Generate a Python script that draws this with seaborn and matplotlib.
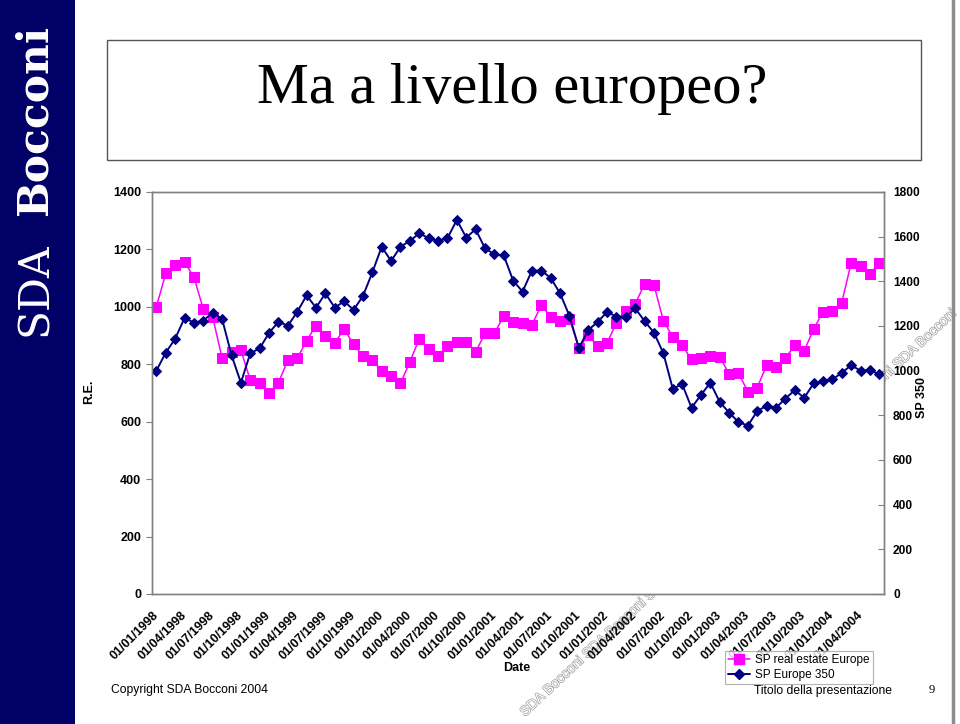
"""
Slide chart: SP real estate Europe vs SP Europe 350 (1998-2004)
"""

import numpy as np
import pandas as pd
import matplotlib
matplotlib.use('Agg')
import matplotlib.pyplot as plt
import matplotlib.patheffects as pe
import matplotlib.transforms as mtransforms
from matplotlib.lines import Line2D
from matplotlib.patches import Rectangle
import seaborn as sns

# monthly categories, Jan 1998 - Jun 2004
months = pd.date_range('1998-01-01', '2004-06-01', freq='MS')

# left axis (R.E.)
re_europe = [
    1000, 1117, 1145, 1156, 1103, 992, 964, 821, 842, 849, 745, 736,
    701, 736, 814, 821, 882, 935, 900, 875, 922, 870, 828, 814,
    778, 758, 734, 808, 889, 853, 830, 864, 879, 879, 842, 908,
    908, 968, 946, 943, 938, 1005, 965, 951, 959, 857, 901, 863,
    873, 945, 987, 1010, 1080, 1076, 952, 894, 866, 817, 823, 829,
    827, 766, 769, 705, 719, 797, 790, 821, 867, 847, 922, 983,
    987, 1015, 1152, 1143, 1114, 1154,
]

# right axis (SP 350)
sp_europe_350 = [
    1000, 1081, 1143, 1236, 1215, 1224, 1260, 1231, 1070, 946, 1078, 1100,
    1169, 1219, 1201, 1263, 1337, 1282, 1346, 1282, 1311, 1272, 1334, 1440,
    1555, 1491, 1555, 1581, 1615, 1593, 1582, 1593, 1675, 1596, 1633, 1548,
    1521, 1516, 1403, 1354, 1448, 1448, 1415, 1346, 1245, 1101, 1182, 1218,
    1263, 1242, 1242, 1279, 1222, 1170, 1078, 919, 940, 834, 891, 946,
    860, 812, 770, 754, 819, 843, 834, 875, 913, 878, 943, 952,
    961, 990, 1024, 1000, 1003, 984,
]

tick_every = 3
tick_labels = [d.strftime('%d/%m/%Y') for d in months[::tick_every]]
left_ticks = list(range(0, 1401, 200))
right_ticks = list(range(0, 1801, 200))

series_labels = ['SP real estate Europe', 'SP Europe 350']
pink = '#ff00ff'
navy = '#000080'
grey = '#808080'

W, H = 960, 724


def fx(x):
    return x / W


def fy(y):
    return 1 - y / H


sns.set_style('white')
plt.rcParams['font.family'] = ['Liberation Sans', 'DejaVu Sans']
plt.rcParams['text.color'] = 'black'
plt.rcParams['xtick.labelcolor'] = 'black'
plt.rcParams['ytick.labelcolor'] = 'black'

fig = plt.figure(figsize=(W / 100, H / 100), dpi=100)
fig.patch.set_facecolor('white')

# blue side band with logo
fig.add_artist(Rectangle((0, 0), fx(75), 1, transform=fig.transFigure,
                         facecolor='#000066', edgecolor='none', zorder=0))
fig.text(fx(47), fy(336), 'SDA', rotation=90, rotation_mode='anchor',
         ha='left', va='baseline', color='white', fontsize=30.5,
         family='DejaVu Serif')
fig.text(fx(47), fy(216), 'Bocconi', rotation=90, rotation_mode='anchor',
         ha='left', va='baseline', color='white', fontsize=30.5,
         family='DejaVu Serif', fontweight='bold')

# grey line at the right edge
fig.add_artist(Line2D([fx(953), fx(953)], [0, 1], transform=fig.transFigure,
                      color='#8c8c8c', linewidth=2.5))

# title box
fig.add_artist(Rectangle((fx(107), fy(160)), fx(921) - fx(107), fy(40) - fy(160),
                         transform=fig.transFigure, facecolor='white',
                         edgecolor='#555555', linewidth=1))
fig.text(fx(512), fy(103), 'Ma a livello europeo?', ha='center', va='baseline',
         fontsize=42, family='Liberation Serif', color='black')

# watermark
wm = fig.text(fx(525), fy(717), ' '.join(['SDA Bocconi'] * 7), rotation=43,
              rotation_mode='anchor', ha='left', va='baseline', fontsize=10,
              color='white', zorder=0.5)
wm.set_path_effects([pe.withStroke(linewidth=1.0, foreground='#a0a0a0')])

df = pd.DataFrame({'month': np.arange(len(months)),
                   're': re_europe, 'sp': sp_europe_350})

ax = fig.add_axes([fx(151.7), fy(594), (884 - 151.7) / W, (594 - 192) / H])
ax.set_facecolor('white')
ax.set_zorder(1)
sns.lineplot(data=df, x='month', y='re', ax=ax, color=pink, marker='s',
             markersize=6.5, markeredgecolor=pink, linewidth=1.1, legend=False)

ax2 = ax.twinx()
ax2.set_zorder(2)
sns.lineplot(data=df, x='month', y='sp', ax=ax2, color=navy, marker='D',
             markersize=4.6, markeredgecolor=navy, linewidth=1.4, legend=False)

ax.set_xlim(-0.5, len(months) - 0.5)
ax.set_ylim(0, 1400)
ax2.set_ylim(0, 1800)

ax.set_xticks(df['month'][::tick_every])
ax.set_xticklabels(tick_labels, rotation=45, ha='right', va='center',
                   rotation_mode='anchor', fontsize=9, fontweight='bold')
shift = mtransforms.ScaledTranslation(-0.05, 0.02, fig.dpi_scale_trans)
for lab in ax.get_xticklabels():
    lab.set_transform(lab.get_transform() + shift)
ax.set_xticks(np.arange(-0.5, len(months), 1), minor=True)
ax.tick_params(axis='x', which='major', length=0, pad=14)
ax.tick_params(axis='x', which='minor', direction='inout', length=6,
               color=grey, width=0.8)

ax.set_yticks(left_ticks)
ax.set_yticklabels([str(v) for v in left_ticks], fontsize=9, fontweight='bold')
ax.tick_params(axis='y', direction='out', length=4, color=grey, pad=3.5)
ax2.set_yticks(right_ticks)
ax2.set_yticklabels([str(v) for v in right_ticks], fontsize=8.6,
                    fontweight='bold')
ax2.tick_params(axis='y', direction='in', length=4, color=grey, pad=6.5)

for a in (ax, ax2):
    for s in a.spines.values():
        s.set_color(grey)
        s.set_linewidth(1)
        s.set_visible(True)

ax.set_xlabel('')
ax.set_ylabel('')
ax2.set_ylabel('')

fig.text(fx(89), fy(392), 'R.E.', rotation=90, ha='center', va='center',
         fontsize=9, fontweight='bold')
fig.text(fx(922), fy(397), 'SP 350', rotation=90, ha='center', va='center',
         fontsize=9, fontweight='bold')
fig.text(fx(517), fy(668), 'Date', ha='center', va='center',
         fontsize=9, fontweight='bold')

handles = [
    Line2D([], [], color=pink, marker='s', markersize=6.5, linewidth=1.1),
    Line2D([], [], color=navy, marker='D', markersize=4.6, linewidth=1.4),
]
leg = fig.legend(handles, series_labels, loc='upper left',
                 bbox_to_anchor=(fx(725), fy(651)), frameon=True,
                 fancybox=False, fontsize=8.5, handlelength=1.9,
                 handletextpad=0.4, labelspacing=0.3, borderpad=0.25,
                 borderaxespad=0)
leg.get_frame().set_edgecolor('#a0a0a0')
leg.get_frame().set_linewidth(0.8)
leg.set_zorder(3)

fig.text(fx(111), fy(690), 'Copyright SDA Bocconi 2004', ha='left',
         va='center', fontsize=8.7)
fig.text(fx(754), fy(691), 'Titolo della presentazione', ha='left',
         va='center', fontsize=8.7, zorder=4)
fig.text(fx(932), fy(690), '9', ha='center', va='center', fontsize=9,
         family='Liberation Serif', zorder=4)

fig.savefig('out.png', dpi=100)
plt.close(fig)
